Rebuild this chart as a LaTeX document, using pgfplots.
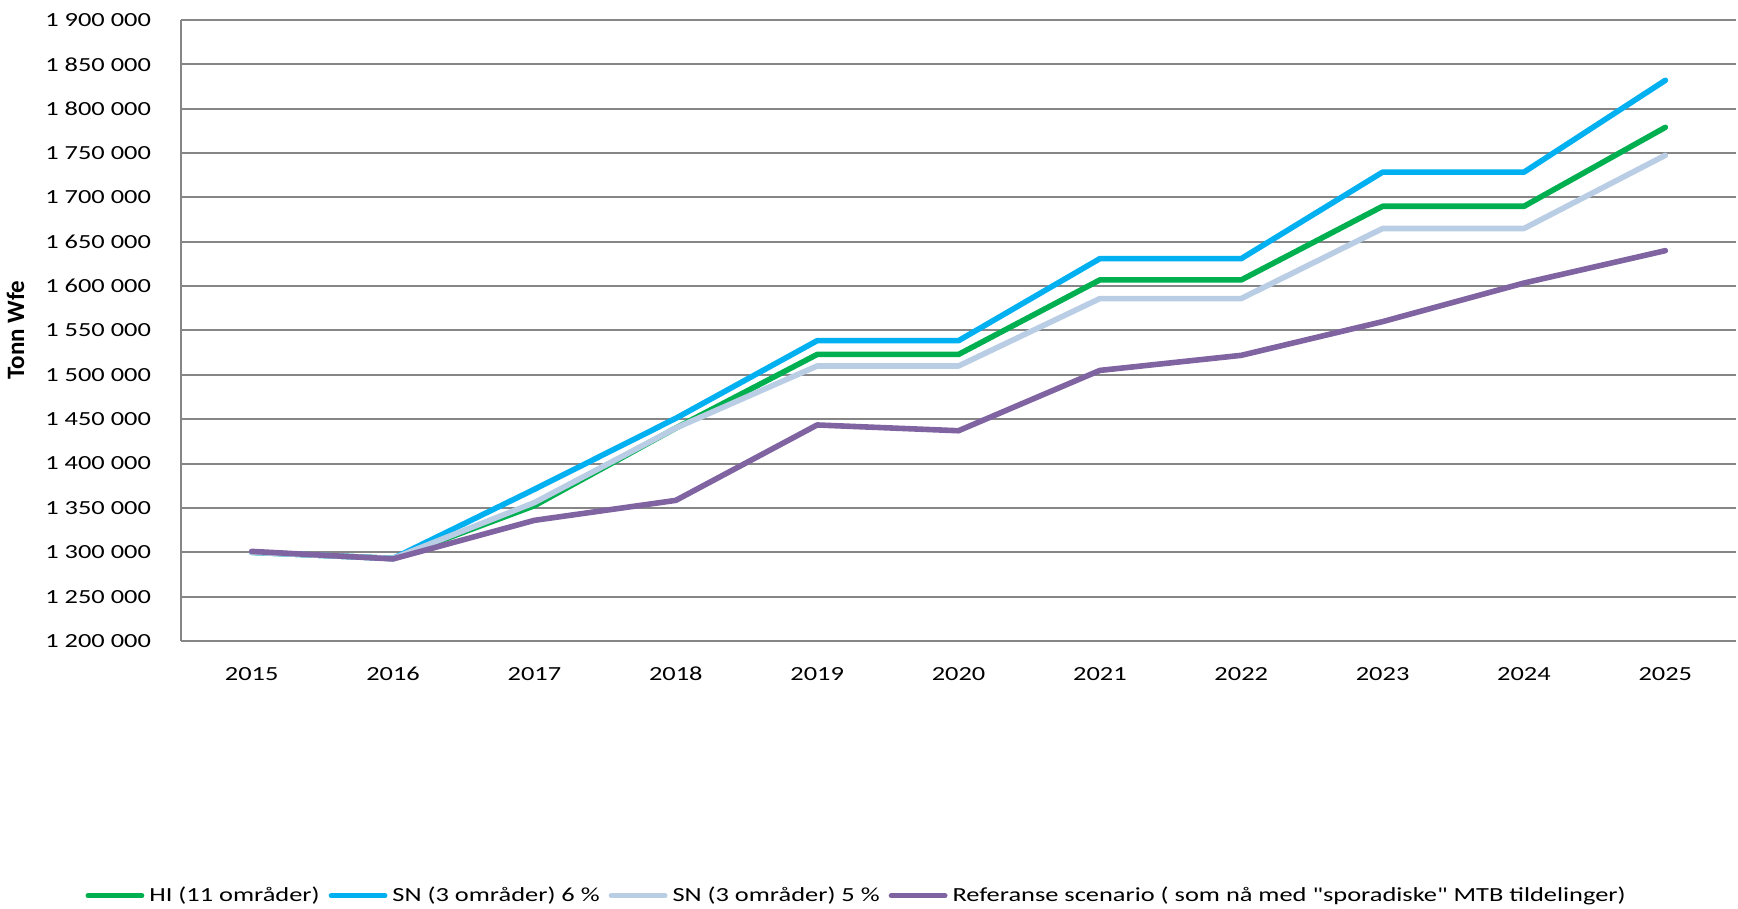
\documentclass[border=0pt]{standalone}
\usepackage{fontspec}
\setmainfont{Carlito}[FakeStretch=1.32]
\newfontfamily\plainfont{Carlito}
\newfontfamily\qfont{Carlito}[FakeStretch=1.32]
\usepackage{pgfplots}
\pgfplotsset{compat=1.18}
\definecolor{cgreen}{HTML}{00B050}
\definecolor{cblue}{HTML}{00B0F0}
\definecolor{clight}{HTML}{B9CDE5}
\definecolor{cpurple}{HTML}{8064A2}
\definecolor{cgrid}{HTML}{868686}
\begin{document}
\begin{tikzpicture}[x=1bp,y=1bp]
\useasboundingbox (-90.5,-134) rectangle (778.5,320.5);
\begin{axis}[
  at={(0,0)}, anchor=south west, scale only axis,
  width=777.5bp, height=310.5bp,
  xmin=-0.5, xmax=10.5, ymin=1200000, ymax=1900000,
  scaled y ticks=false,
  axis x line*=bottom, axis y line*=left,
  axis line style={-, cgrid, line width=1bp},
  xtick={0,1,2,3,4,5,6,7,8,9,10},
  xticklabels={2015,2016,2017,2018,2019,2020,2021,2022,2023,2024,2025},
  ytick={1200000,1250000,1300000,1350000,1400000,1450000,1500000,1550000,1600000,1650000,1700000,1750000,1800000,1850000,1900000},
  yticklabels={1 200 000,1 250 000,1 300 000,1 350 000,1 400 000,1 450 000,1 500 000,1 550 000,1 600 000,1 650 000,1 700 000,1 750 000,1 800 000,1 850 000,1 900 000},
  major tick length=0pt,
  ymajorgrids, major grid style={cgrid, line width=1bp},
  ticklabel style={font=\fontsize{10bp}{12bp}\selectfont},
  xticklabel style={yshift=-9.5bp},
  yticklabel style={xshift=-11.5bp},
  legend style={at={(0.4345,-0.41)}, anchor=center, draw=none, fill=none,
    font=\fontsize{10bp}{12bp}\selectfont, inner sep=0pt,
    nodes={inner sep=1bp},
    /tikz/every even column/.append style={column sep=3.5bp},
    /tikz/every odd column/.append style={column sep=1.5bp}},
  legend columns=-1,
  legend cell align=left,
  legend image code/.code={\draw[#1, line width=2.4bp] (0bp,0bp) -- (27bp,0bp);},
  every axis plot/.append style={line width=2.8bp, line cap=round, line join=round},
  clip=false,
]
\addplot[cgreen] coordinates {(0,1300000) (1,1293000) (2,1352500) (3,1440000) (4,1523000) (5,1523000) (6,1607000) (7,1607000) (8,1690000) (9,1690000) (10,1779000)};
\addlegendentry{HI (11 områder)}
\addplot[cblue] coordinates {(0,1300000) (1,1293000) (2,1371000) (3,1451000) (4,1538500) (5,1538500) (6,1631000) (7,1631000) (8,1728500) (9,1728500) (10,1832000)};
\addlegendentry{SN (3 områder) 6 \%}
\addplot[clight] coordinates {(0,1300000) (1,1293000) (2,1356000) (3,1440000) (4,1510000) (5,1510000) (6,1586000) (7,1586000) (8,1665000) (9,1665000) (10,1747500)};
\addlegendentry{SN (3 områder) 5 \%}
\addplot[cpurple] coordinates {(0,1301000) (1,1292500) (2,1336000) (3,1358500) (4,1443500) (5,1437000) (6,1505000) (7,1522000) (8,1560000) (9,1603500) (10,1640000)};
\addlegendentry{{\qfont Referanse scenario ( som nå med "sporadiske" MTB tildelinger)}}
\end{axis}
\node[rotate=90, inner sep=0pt, font=\fontsize{12.5bp}{14bp}\plainfont\bfseries] at (-82.75,155.5) {Tonn Wfe};
\end{tikzpicture}
\end{document}
